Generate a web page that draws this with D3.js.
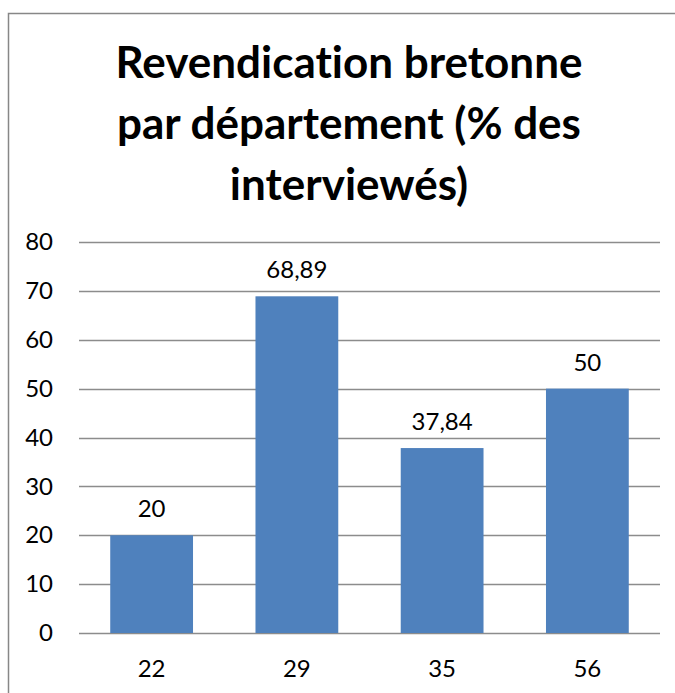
<!DOCTYPE html>
<html>
<head>
<meta charset="utf-8">
<script src="https://cdn.jsdelivr.net/npm/d3@7"></script>
<style>
  html, body { margin: 0; padding: 0; background: #fff; }
  svg { display: block; }
  text { font-variant-ligatures: none; }
</style>
</head>
<body>
<svg id="chart" width="675" height="693"></svg>
<script>
// Département codes and share of respondents (%)
const departements = ["22", "29", "35", "56"];
const valeurs = [20, 68.89, 37.84, 50];
const yTicks = [0, 10, 20, 30, 40, 50, 60, 70, 80];
const titre = ["Revendication bretonne", "par département (% des", "interviewés)"];

const svg = d3.select("#chart");
const font = "Lato, 'Open Sans', sans-serif";

// outer frame
svg.append("rect")
  .attr("x", 8.5).attr("y", 13.5)
  .attr("width", 682).attr("height", 700)
  .attr("fill", "#fff").attr("stroke", "#878787").attr("stroke-width", 1.5);

// title
const t = svg.append("text")
  .attr("text-anchor", "middle")
  .attr("font-family", font)
  .attr("font-weight", "bold")
  .attr("font-size", 44)
  .attr("fill", "#000");
titre.forEach((line, i) => {
  t.append("tspan").attr("x", 349).attr("y", 78 + i * 61).text(line);
});

const plot = { left: 79, right: 660, top: 242, bottom: 633 };

const x = d3.scaleBand()
  .domain(departements)
  .range([plot.left, plot.right])
  .paddingInner(0.43)
  .paddingOuter(0.215);

const y = d3.scaleLinear()
  .domain([0, 80])
  .range([plot.bottom, plot.top]);

// gridlines
svg.append("g")
  .selectAll("line")
  .data(yTicks)
  .join("line")
  .attr("x1", plot.left).attr("x2", plot.right)
  .attr("y1", d => Math.round(y(d)) + 0.5).attr("y2", d => Math.round(y(d)) + 0.5)
  .attr("stroke", "#8c8c8c").attr("stroke-width", 1.3);

// y axis labels
const yAxis = svg.append("g")
  .attr("transform", `translate(${plot.left},0)`)
  .call(d3.axisLeft(y).tickValues(yTicks).tickSize(0).tickPadding(26));
yAxis.select(".domain").remove();
yAxis.selectAll("text")
  .attr("font-family", font).attr("font-size", 24).attr("fill", "#000");

// bars
svg.append("g")
  .selectAll("rect")
  .data(valeurs)
  .join("rect")
  .attr("x", (d, i) => x(departements[i]))
  .attr("y", d => y(d))
  .attr("width", x.bandwidth())
  .attr("height", d => y(0) - y(d))
  .attr("fill", "#4f81bd");

// value labels
svg.append("g")
  .selectAll("text")
  .data(valeurs)
  .join("text")
  .attr("x", (d, i) => x(departements[i]) + x.bandwidth() / 2)
  .attr("y", d => y(d) - 18)
  .attr("text-anchor", "middle")
  .attr("font-family", font).attr("font-size", 24).attr("fill", "#000")
  .text(d => d3.format(",")(d).replace(".", ","));

// x axis labels
const xAxis = svg.append("g")
  .attr("transform", `translate(0,${plot.bottom})`)
  .call(d3.axisBottom(x).tickSize(0).tickPadding(27));
xAxis.select(".domain").remove();
xAxis.selectAll("text")
  .attr("font-family", font).attr("font-size", 24).attr("fill", "#000");
</script>
</body>
</html>
